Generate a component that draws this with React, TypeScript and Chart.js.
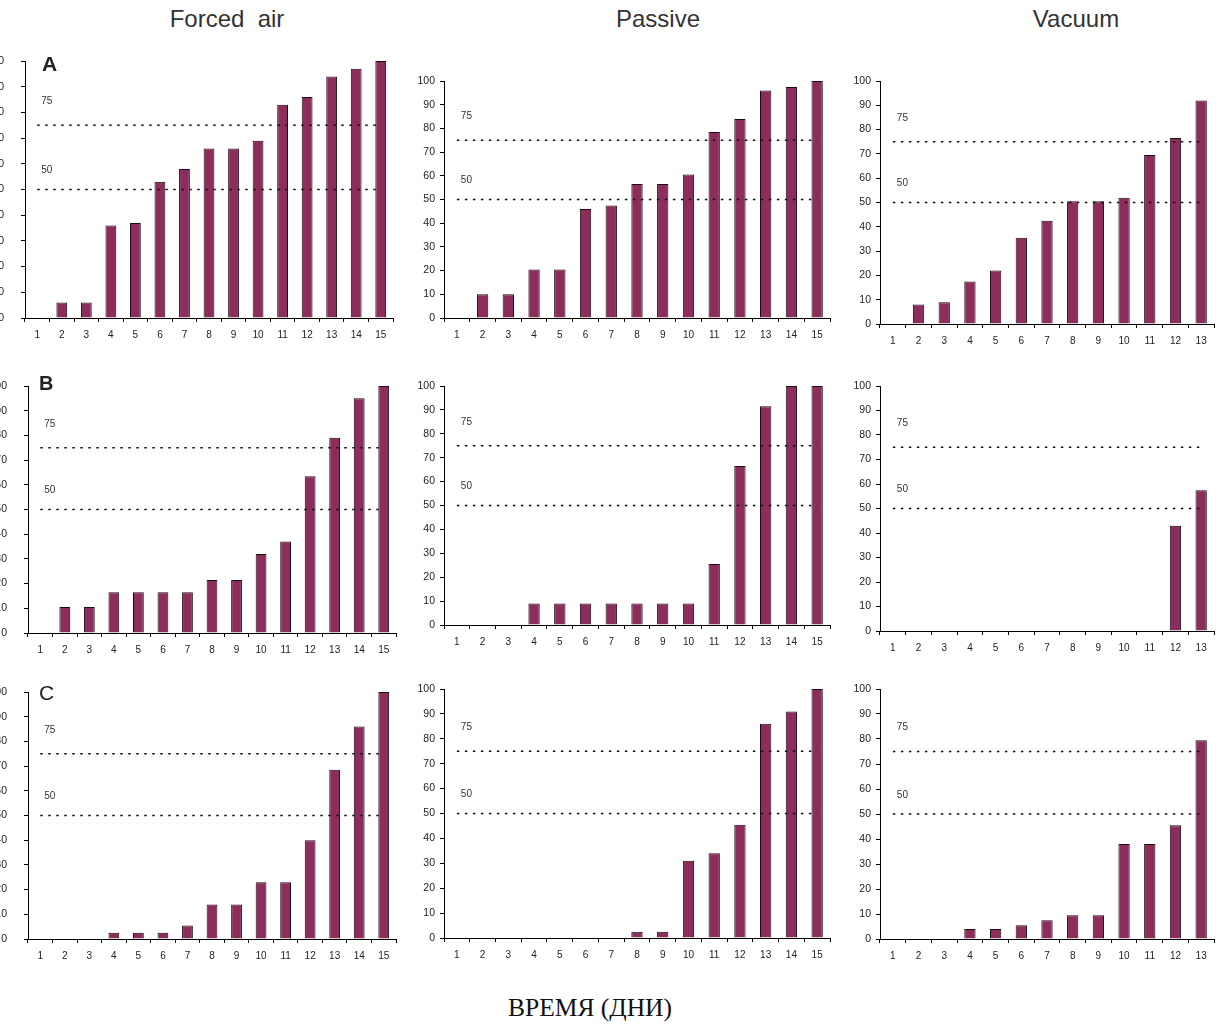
import React, { useEffect, useRef } from "react";
import { Chart, registerables } from "chart.js";

Chart.register(...registerables);

// ---- data ----
const days15 = ["1", "2", "3", "4", "5", "6", "7", "8", "9", "10", "11", "12", "13", "14", "15"];
const days13 = ["1", "2", "3", "4", "5", "6", "7", "8", "9", "10", "11", "12", "13"];
const yTicks = [0, 10, 20, 30, 40, 50, 60, 70, 80, 90, 100];
const thresholds = [50, 75];

const forcedA = [0, 6, 6, 36, 37, 53, 58, 66, 66, 69, 83, 86, 94, 97, 100];
const passiveA = [0, 10, 10, 20.5, 20.5, 46, 47.5, 56.5, 56.5, 60.5, 78.5, 84, 96, 97.5, 100];
const vacuumA = [0, 8, 9, 17.5, 22, 35.5, 42.5, 50.5, 50.5, 52, 69.5, 76.5, 92];

const forcedB = [0, 10.5, 10.5, 16.5, 16.5, 16.5, 16.5, 21.5, 21.5, 32, 37, 63.5, 79, 95, 100];
const passiveB = [0, 0, 0, 9, 9, 9, 9, 9, 9, 9, 25.5, 66.5, 91.5, 100, 100];
const vacuumB = [0, 0, 0, 0, 0, 0, 0, 0, 0, 0, 0, 43, 57.5];

const forcedC = [0, 0, 0, 2.5, 2.5, 2.5, 5.5, 14, 14, 23, 23, 40, 68.5, 86, 100];
const passiveC = [0, 0, 0, 0, 0, 0, 0, 2.5, 2.5, 31, 34, 45.5, 86, 91, 100];
const vacuumC = [0, 0, 0, 4, 4, 5.5, 7.5, 9.5, 9.5, 38, 38, 45.5, 79.5];

const columnTitles = ["Forced  air", "Passive", "Vacuum"];
const panelLetters = ["A", "B", "C"];
const xAxisTitle = "ВРЕМЯ (ДНИ)";

// ---- layout ----
type Panel = {
  labels: string[];
  values: number[];
  axisX: number;
  rightX: number;
  topY: number;
  botY: number;
  yPad: number;
};

const YW = 30;
const XH = 26;
const PT = 9;
const PR = 4;

const panels: Panel[] = [
  { labels: days15, values: forcedA, axisX: 25, rightX: 393, topY: 61, botY: 318, yPad: 17 },
  { labels: days15, values: passiveA, axisX: 444, rightX: 830, topY: 81, botY: 318, yPad: 5 },
  { labels: days13, values: vacuumA, axisX: 880, rightX: 1214, topY: 81, botY: 324, yPad: 5 },
  { labels: days15, values: forcedB, axisX: 28, rightX: 396, topY: 386, botY: 633, yPad: 17 },
  { labels: days15, values: passiveB, axisX: 444, rightX: 830, topY: 386, botY: 625, yPad: 5 },
  { labels: days13, values: vacuumB, axisX: 880, rightX: 1214, topY: 386, botY: 631, yPad: 5 },
  { labels: days15, values: forcedC, axisX: 28, rightX: 396, topY: 692, botY: 939, yPad: 17 },
  { labels: days15, values: passiveC, axisX: 444, rightX: 830, topY: 689, botY: 938, yPad: 5 },
  { labels: days13, values: vacuumC, axisX: 880, rightX: 1214, topY: 689, botY: 939, yPad: 5 },
];

const FONT = "'Liberation Sans', Arial, sans-serif";

const thresholdLabelPlugin = {
  id: "thresholdLabels",
  afterDatasetsDraw(chart: any) {
    const ctx = chart.ctx;
    ctx.save();
    ctx.fillStyle = "#333";
    ctx.font = `10px ${FONT}`;
    ctx.textAlign = "left";
    ctx.textBaseline = "middle";
    chart.data.datasets.forEach((ds: any, i: number) => {
      if (ds.type !== "line") return;
      const meta = chart.getDatasetMeta(i);
      const pt = meta.data[0];
      if (!pt) return;
      const off = ds.thresholdValue === 75 ? 24 : 19;
      ctx.fillText(String(ds.thresholdValue), pt.x + 4, pt.y - off);
    });
    ctx.restore();
  },
};

function PanelChart({ p }: { p: Panel }) {
  const ref = useRef<HTMLCanvasElement | null>(null);
  const left = p.axisX - YW;
  const top = p.topY - PT;
  const width = p.rightX - left + PR;
  const height = p.botY - p.topY + PT + XH;

  useEffect(() => {
    if (!ref.current) return;
    const datasets: any[] = thresholds.map((t) => ({
      type: "line",
      thresholdValue: t,
      data: p.labels.map(() => t),
      borderColor: "#111",
      borderWidth: 1.6,
      borderDash: [2.5, 5.5],
      pointRadius: 0,
      fill: false,
      order: 0,
    }));
    datasets.push({
      type: "bar",
      data: p.values,
      backgroundColor: "#8c2d5c",
      borderColor: "#1e0a14",
      borderWidth: 1,
      barPercentage: 0.44,
      categoryPercentage: 1,
      order: 1,
    });
    const chart = new Chart(ref.current, {
      type: "bar",
      data: { labels: p.labels, datasets },
      options: {
        animation: false,
        responsive: false,
        devicePixelRatio: 1,
        layout: { padding: { top: PT, right: PR, left: 0, bottom: 0 } },
        plugins: { legend: { display: false }, tooltip: { enabled: false } },
        scales: {
          x: {
            offset: true,
            afterFit: (s: any) => {
              s.height = XH;
              s.paddingLeft = 0;
              s.paddingRight = 0;
            },
            grid: {
              offset: true,
              drawOnChartArea: false,
              drawTicks: true,
              tickLength: 4,
              color: "#000",
            },
            border: { color: "#000", width: 1 },
            ticks: {
              color: "#222",
              font: { family: FONT, size: 10 },
              padding: 7,
              maxRotation: 0,
              autoSkip: false,
            },
          },
          y: {
            min: 0,
            max: 100,
            afterFit: (s: any) => {
              s.width = YW;
              s.paddingTop = 0;
              s.paddingBottom = 0;
            },
            afterBuildTicks: (s: any) => {
              s.ticks = yTicks.map((v) => ({ value: v }));
            },
            grid: {
              drawOnChartArea: false,
              drawTicks: true,
              tickLength: 4,
              color: "#000",
            },
            border: { color: "#000", width: 1 },
            ticks: {
              color: "#222",
              font: { family: FONT, size: 10.5 },
              padding: p.yPad,
            },
          },
        },
      } as any,
      plugins: [thresholdLabelPlugin],
    });
    return () => chart.destroy();
  }, []);

  return (
    <canvas
      ref={ref}
      width={width}
      height={height}
      style={{ position: "absolute", left, top, width, height }}
    />
  );
}

export default function App() {
  const titleX = [227, 658, 1076];
  const letterPos = [
    { x: 42, y: 52, size: 21, weight: 700 },
    { x: 39, y: 371, size: 20, weight: 700 },
    { x: 39, y: 681, size: 21, weight: 400 },
  ];
  return (
    <div
      style={{
        position: "absolute",
        left: 0,
        top: 0,
        width: 1219,
        height: 1025,
        overflow: "hidden",
        background: "#fff",
      }}
    >
      {panels.map((p, i) => (
        <PanelChart key={i} p={p} />
      ))}
      {columnTitles.map((t, i) => (
        <div
          key={t}
          style={{
            position: "absolute",
            left: titleX[i] - 150,
            width: 300,
            top: 4,
            textAlign: "center",
            fontFamily: FONT,
            fontSize: 24,
            color: "#333",
            whiteSpace: "pre",
            lineHeight: "30px",
          }}
        >
          {t}
        </div>
      ))}
      {panelLetters.map((l, i) => (
        <div
          key={l}
          style={{
            position: "absolute",
            left: letterPos[i].x,
            top: letterPos[i].y,
            fontFamily: FONT,
            fontSize: letterPos[i].size,
            fontWeight: letterPos[i].weight,
            color: "#222",
            lineHeight: "24px",
          }}
        >
          {l}
        </div>
      ))}
      <div
        style={{
          position: "absolute",
          left: 390,
          width: 400,
          top: 992,
          textAlign: "center",
          fontFamily: "'Liberation Serif', 'Times New Roman', serif",
          fontSize: 25.5,
          color: "#111",
          lineHeight: "32px",
        }}
      >
        {xAxisTitle}
      </div>
    </div>
  );
}
